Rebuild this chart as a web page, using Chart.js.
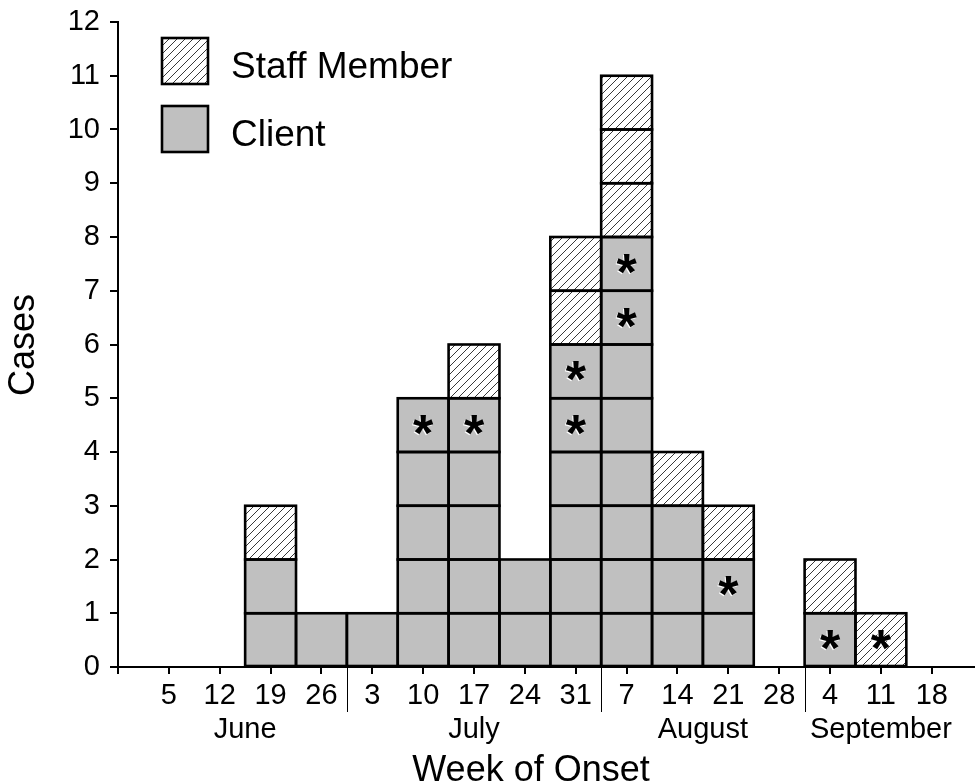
<!DOCTYPE html>
<html>
<head>
<meta charset="utf-8">
<script src="https://cdn.jsdelivr.net/npm/chart.js@4/dist/chart.umd.min.js"></script>
<style>
  html, body { margin: 0; padding: 0; background: #fff; }
</style>
</head>
<body>
<canvas id="graficoCasos" width="975" height="784"></canvas>
<script>
// semanas de inicio (día del mes) y meses
const weeks = ['5', '12', '19', '26', '3', '10', '17', '24', '31', '7', '14', '21', '28', '4', '11', '18'];
const months = ['June', 'July', 'August', 'September'];
const weeksPerMonth = [4, 5, 4, 3];
// casos por semana
const clientCases = [0, 0, 2, 1, 1, 5, 5, 2, 6, 8, 3, 2, 0, 1, 0, 0];
const staffCases  = [0, 0, 1, 0, 0, 0, 1, 0, 2, 3, 1, 1, 0, 1, 1, 0];
// casos marcados con asterisco (posición en la pila, desde 0)
const starredCases = [[], [], [], [], [], [4], [4], [], [4, 5], [6, 7], [], [1], [], [0], [0], []];
const yTicks = [0, 1, 2, 3, 4, 5, 6, 7, 8, 9, 10, 11, 12];

const FONT = "'Liberation Sans', Arial, Helvetica, sans-serif";
const GRIS = '#c0c0c0';

const canvas = document.getElementById('graficoCasos');
const ctx = canvas.getContext('2d');

// patrón rayado para el personal
function crearRayado() {
    const c = document.createElement('canvas');
    c.width = 8; c.height = 8;
    const g = c.getContext('2d');
    g.fillStyle = '#fff';
    g.fillRect(0, 0, 8, 8);
    g.strokeStyle = '#222';
    g.lineWidth = 0.9;
    g.beginPath();
    g.moveTo(0, 8); g.lineTo(8, 0);
    g.moveTo(-1, 1); g.lineTo(1, -1);
    g.moveTo(7, 9); g.lineTo(9, 7);
    g.stroke();
    return ctx.createPattern(c, 'repeat');
}
const rayado = crearRayado();

// un dataset por nivel: cada caso es una caja
const totales = clientCases.map((c, i) => c + staffCases[i]);
const niveles = Math.max(...totales);
const datasets = [];
for (let k = 0; k < niveles; k++) {
    const datos = [];
    const colores = [];
    weeks.forEach((w, i) => {
        if (k < totales[i]) {
            datos.push({ x: i, y: 1 });
            colores.push(k < clientCases[i] ? GRIS : rayado);
        }
    });
    datasets.push({
        data: datos,
        backgroundColor: colores,
        borderWidth: 0,
        barPercentage: 1,
        categoryPercentage: 1
    });
}

const extras = {
    id: 'extras',
    afterDatasetsDraw(chart) {
        const c = chart.ctx;
        const xs = chart.scales.x;
        const ys = chart.scales.y;
        c.save();
        // contorno de cada caja
        c.strokeStyle = '#000';
        c.lineWidth = 2.6;
        chart.getSortedVisibleDatasetMetas().forEach(meta => {
            meta.data.forEach(el => {
                const p = el.getProps(['x', 'y', 'base', 'width'], true);
                c.strokeRect(p.x - p.width / 2, p.y, p.width, p.base - p.y);
            });
        });
        // asteriscos
        c.font = 'bold 52px ' + FONT;
        c.textAlign = 'center';
        c.textBaseline = 'alphabetic';
        const m = c.measureText('*');
        const dy = (m.actualBoundingBoxAscent - m.actualBoundingBoxDescent) / 2;
        starredCases.forEach((lista, i) => {
            lista.forEach(nivel => {
                const px = xs.getPixelForValue(i);
                const py = ys.getPixelForValue(nivel + 0.5) + dy;
                c.fillStyle = '#fff';
                c.fillText('*', px - 1, py + 1);
                c.fillStyle = '#000';
                c.fillText('*', px, py);
            });
        });
        c.restore();
    },
    afterDraw(chart) {
        const c = chart.ctx;
        const xs = chart.scales.x;
        const area = chart.chartArea;
        c.save();
        c.fillStyle = '#000';
        c.strokeStyle = '#000';
        // meses y separadores
        c.font = '29px ' + FONT;
        c.textAlign = 'center';
        c.textBaseline = 'alphabetic';
        c.lineWidth = 1;
        let inicio = 0;
        months.forEach((mes, j) => {
            const n = weeksPerMonth[j];
            c.fillText(mes, xs.getPixelForValue(inicio + (n - 1) / 2), 738);
            if (j < months.length - 1) {
                const sx = Math.round(xs.getPixelForValue(inicio + n - 0.5)) + 0.5;
                c.beginPath();
                c.moveTo(sx, area.bottom);
                c.lineTo(sx, 712);
                c.stroke();
            }
            inicio += n;
        });
        // títulos de ejes
        c.font = '36px ' + FONT;
        c.fillText('Week of Onset', 531, 781);
        c.save();
        c.translate(34, 345);
        c.rotate(-Math.PI / 2);
        c.fillText('Cases', 0, 0);
        c.restore();
        // leyenda
        c.lineWidth = 2.6;
        c.fillStyle = rayado;
        c.fillRect(162, 38, 46, 46);
        c.strokeRect(162, 38, 46, 46);
        c.fillStyle = GRIS;
        c.fillRect(162, 106, 46, 46);
        c.strokeRect(162, 106, 46, 46);
        c.fillStyle = '#000';
        c.textAlign = 'left';
        c.font = '37px ' + FONT;
        c.fillText('Staff Member', 231, 78);
        c.fillText('Client', 231, 146);
        c.restore();
    }
};

new Chart(ctx, {
    type: 'bar',
    data: { datasets: datasets },
    options: {
        responsive: false,
        animation: false,
        events: [],
        layout: { padding: { top: 22, left: 0, right: 0, bottom: 0 } },
        plugins: {
            legend: { display: false },
            tooltip: { enabled: false }
        },
        scales: {
            x: {
                type: 'linear',
                stacked: true,
                offset: false,
                min: -1,
                max: 15.85,
                afterBuildTicks: s => {
                    s.ticks = [-1].concat(weeks.map((w, i) => i)).map(v => ({ value: v }));
                },
                afterFit: s => { s.height = 117; },
                ticks: {
                    autoSkip: false,
                    maxRotation: 0,
                    padding: 5,
                    color: '#000',
                    font: { family: FONT, size: 29 },
                    callback: v => (weeks[v] !== undefined ? weeks[v] : '')
                },
                grid: { offset: false, drawOnChartArea: false, tickLength: 7, color: '#000', lineWidth: 2 },
                border: { color: '#000', width: 2 }
            },
            y: {
                stacked: true,
                min: 0,
                max: 12,
                afterBuildTicks: s => { s.ticks = yTicks.map(v => ({ value: v })); },
                afterFit: s => { s.width = 118; },
                ticks: {
                    padding: 10,
                    color: '#000',
                    font: { family: FONT, size: 29, lineHeight: 0.6 }
                },
                grid: { drawOnChartArea: false, tickLength: 8, color: '#000', lineWidth: 2 },
                border: { color: '#000', width: 2 }
            }
        }
    },
    plugins: [extras]
});
</script>
</body>
</html>
